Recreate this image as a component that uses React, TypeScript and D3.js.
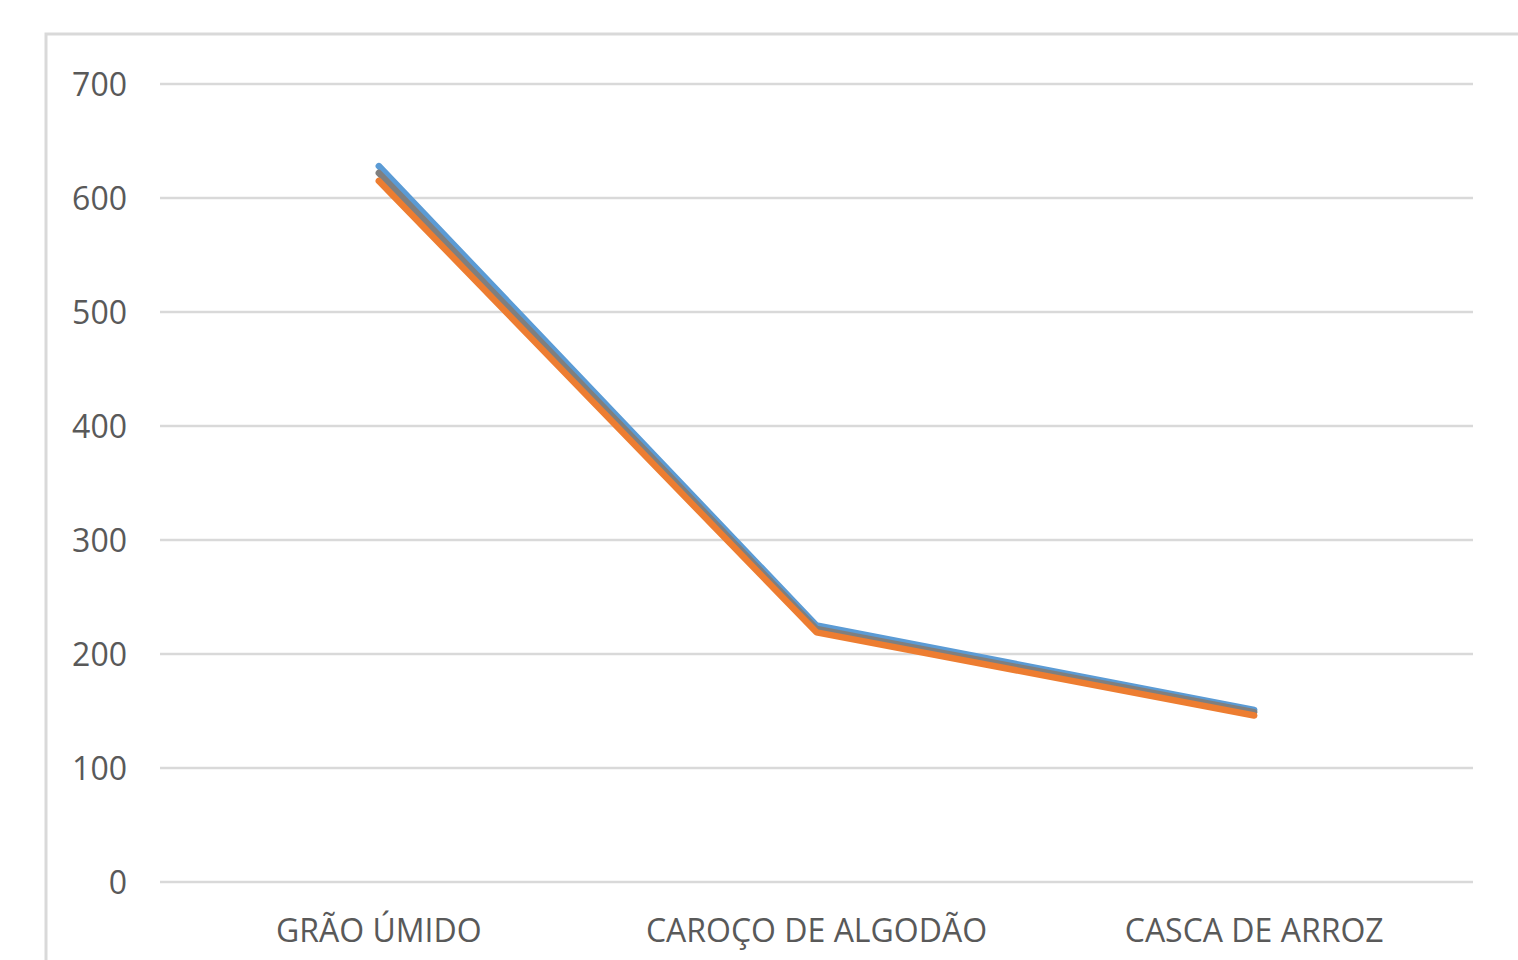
import React from 'react';
import * as d3 from 'd3';

const categories = ['GRÃO ÚMIDO', 'CAROÇO DE ALGODÃO', 'CASCA DE ARROZ'];
const seriesBlue = [628, 225, 151];
const seriesGray = [622, 222, 149];
const seriesOrange = [615, 219, 146];
const yTicks = [0, 100, 200, 300, 400, 500, 600, 700];

const series = [
  { name: 'blue', color: '#5b9bd5', values: seriesBlue },
  { name: 'gray', color: '#7f7f7f', values: seriesGray },
  { name: 'orange', color: '#ed7d31', values: seriesOrange },
];

const W = 1518;
const H = 960;

export default function App() {
  // plot area
  const left = 160;
  const right = 1473;
  const x = d3.scaleBand<string>().domain(categories).range([left, right]);
  const y = d3.scaleLinear().domain([0, 700]).range([882, 84]);

  const line = d3
    .line<number>()
    .x((_, i) => (x(categories[i]) ?? 0) + x.bandwidth() / 2)
    .y((d) => y(d));

  return (
    <div style={{ position: 'fixed', left: 0, top: 0, width: W, height: H, background: '#fff' }}>
      <svg width={W} height={H} style={{ display: 'block', fontFamily: '"Open Sans", sans-serif' }}>
        {/* chart frame */}
        <rect x={46} y={34} width={W} height={H} fill="#fff" stroke="#d9d9d9" strokeWidth={3} />

        {/* gridlines + y labels */}
        {yTicks.map((t) => (
          <g key={t}>
            <line x1={left} x2={right} y1={y(t)} y2={y(t)} stroke="#d9d9d9" strokeWidth={2.5} />
            <text x={127} y={y(t)} dy="0.36em" textAnchor="end" fill="#595959" fontSize={32}>
              {t}
            </text>
          </g>
        ))}

        {/* x labels */}
        {categories.map((c) => (
          <text
            key={c}
            x={(x(c) ?? 0) + x.bandwidth() / 2}
            y={930}
            dy="0.36em"
            textAnchor="middle"
            fill="#595959"
            fontSize={32}
          >
            {c}
          </text>
        ))}

        {/* series lines */}
        {series.map((s) => (
          <path
            key={s.name}
            d={line(s.values) || undefined}
            fill="none"
            stroke={s.color}
            strokeWidth={6.5}
            strokeLinejoin="round"
            strokeLinecap="round"
          />
        ))}
      </svg>
    </div>
  );
}
